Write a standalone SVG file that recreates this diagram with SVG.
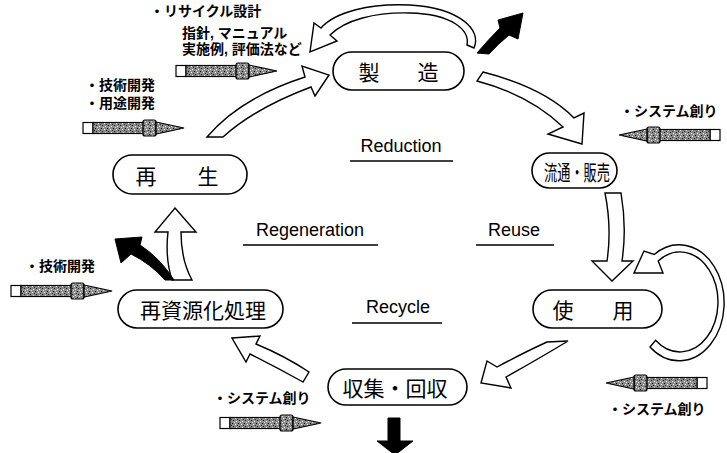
<svg xmlns="http://www.w3.org/2000/svg" xmlns:xlink="http://www.w3.org/1999/xlink" width="727" height="453" viewBox="0 0 727 453">
  <style>
    .pill { fill: #fff; stroke: #000; stroke-width: 1.6; }
    .node { font-family: "Noto Sans CJK JP", "Noto Sans CJK SC", sans-serif; font-size: 21px; fill: #000; text-anchor: middle; dominant-baseline: central; }
    .note { font-family: "Liberation Sans", "Noto Sans CJK JP", "Noto Sans CJK SC", sans-serif; font-weight: bold; font-size: 14px; fill: #000; }
    .lbl { font-family: "Liberation Sans", Arial, sans-serif; font-size: 18px; fill: #000; text-anchor: middle; }
    .rule { stroke: #000; stroke-width: 1.6; }
    .flow { fill: #fff; stroke: #000; stroke-width: 1.4; stroke-linejoin: miter; }
    .dark { fill: #000; stroke: #000; stroke-width: 1; }
    .pen { stroke: #000; stroke-width: 1.2; }
  </style>
  <defs>
    <pattern id="grain" width="6" height="6" patternUnits="userSpaceOnUse">
      <rect width="6" height="6" fill="#8c8c8c"/>
      <rect x="0" y="0" width="1" height="1" fill="#000"/>
      <rect x="3" y="1" width="1" height="1" fill="#fff"/>
      <rect x="1" y="3" width="1" height="1" fill="#222"/>
      <rect x="4" y="4" width="1" height="1" fill="#eee"/>
      <rect x="5" y="2" width="1" height="1" fill="#333"/>
      <rect x="2" y="5" width="1" height="1" fill="#ddd"/>
    </pattern>
    <!-- pencil-style arrow, 101 long, pointing right, origin at the eraser end -->
    <g id="pencil">
      <rect class="pen" x="0" y="-5.5" width="10" height="11" fill="#fff"/>
      <rect class="pen" x="10" y="-5.5" width="52" height="11" fill="url(#grain)"/>
      <rect class="pen" x="60" y="-8" width="13" height="16" rx="2" fill="url(#grain)"/>
      <path class="pen" d="M73,-6 L101,0 L73,6 Z" fill="url(#grain)"/>
    </g>
  </defs>

  <rect width="727" height="453" fill="#fff"/>

  <!-- connectors -->
  <g id="connectors">
    <!-- feedback loop over 製造 -->
    <path class="flow" d="M474,48 C482,30 460,8 410,5 C370,3 335,12 321,28 L314,23 L310,52 L337,41 L330,35 C345,20 375,12 410,13 C452,14 470,30 467,45 Z"/>
    <!-- outflow from 製造 -->
    <path class="dark" d="M477,53 Q489,39 500,28 L498,20 L523,13 L518,39 L509,35 Q498,44 489,54 Z"/>
    <!-- 再生 → 製造 -->
    <path class="flow" d="M207,137 Q240,98 305,77 L302,66 L329,75 L315,96 L311,87 Q255,108 223,137 Z"/>
    <!-- 製造 → 流通・販売 -->
    <path class="flow" d="M483,72 Q545,88 574,118 L584,113 L582,144 L548,134 L563,127 Q530,95 477,81 Z"/>
    <!-- 流通・販売 → 使用 -->
    <path class="flow" d="M605,193 L621,193 Q627,228 622,261 L633,261 L612,281 L592,261 L607,261 Q612,228 605,193 Z"/>
    <!-- loop around 使用 -->
    <path class="flow" d="M654.2,254.5 A45 58 0 1 1 650,347 L655.6,340.3 A38 50 0 1 0 658.2,261 L663,273 L634,273 L644,251 Z"/>
    <!-- 使用 → 収集・回収 -->
    <path class="flow" d="M547,342 L568,341 Q540,358 506,377 L511,388 L481,383 L487,361 L497,367 Q525,352 547,342 Z"/>
    <!-- 収集・回収 → 再資源化処理 -->
    <path class="flow" d="M232,338 L260,336 L256,344 Q285,356 309,372 L303,382 Q278,368 250,354 L246,362 Z"/>
    <!-- 再資源化処理 → 再生 -->
    <path class="flow" d="M175,208 L196,232 L181,232 Q181,260 192,280 L172,280 Q165,258 168,232 L155,232 Z"/>
    <!-- outflow from 再資源化処理 -->
    <path class="dark" d="M165,280 L174,280 Q160,258 140,245 L142,237 L115,239 L121,263 L131,254 Q151,264 165,280 Z"/>
    <!-- outflow from 収集・回収 -->
    <path class="dark" d="M388,418 H400 V441 H413 L395,455 L377,441 H388 Z"/>
  </g>

  <!-- nodes -->
  <g id="node-seizou">
    <rect class="pill" x="333" y="52" width="131" height="38" rx="19"/>
    <text class="node" x="369" y="71">製</text>
    <text class="node" x="428" y="71">造</text>
  </g>
  <g id="node-ryutsu">
    <rect class="pill" x="532" y="153" width="85" height="35" rx="17.5"/>
    <text class="node" x="577" y="170.5" font-size="20" textLength="66" lengthAdjust="spacingAndGlyphs">流通・販売</text>
  </g>
  <g id="node-shiyou">
    <rect class="pill" x="533" y="290" width="129" height="38" rx="19"/>
    <text class="node" x="563" y="309">使</text>
    <text class="node" x="623" y="309">用</text>
  </g>
  <g id="node-shushu">
    <rect class="pill" x="328" y="369" width="139" height="36" rx="18"/>
    <text class="node" x="395" y="387">収集・回収</text>
  </g>
  <g id="node-saishigen">
    <rect class="pill" x="118" y="290" width="165" height="38" rx="19"/>
    <text class="node" x="203" y="309">再資源化処理</text>
  </g>
  <g id="node-saisei">
    <rect class="pill" x="113" y="155" width="134" height="39" rx="19.5"/>
    <text class="node" x="146" y="174.5">再</text>
    <text class="node" x="208" y="174.5">生</text>
  </g>

  <!-- cycle labels -->
  <g id="labels">
    <text class="lbl" x="401" y="152">Reduction</text>
    <line class="rule" x1="350" y1="161" x2="453" y2="161"/>
    <text class="lbl" x="310" y="236">Regeneration</text>
    <line class="rule" x1="243" y1="245" x2="378" y2="245"/>
    <text class="lbl" x="514" y="236">Reuse</text>
    <line class="rule" x1="476" y1="245" x2="554" y2="245"/>
    <text class="lbl" x="398" y="313">Recycle</text>
    <line class="rule" x1="352" y1="323" x2="442" y2="323"/>
  </g>

  <!-- supporting measures -->
  <g id="notes">
    <text class="note" x="150" y="16">・リサイクル設計</text>
    <text class="note" x="182" y="38" font-size="12.5">指針, マニュアル</text>
    <text class="note" x="182" y="54" font-size="12.5">実施例, 評価法など</text>
    <use xlink:href="#pencil" transform="translate(176,71)"/>

    <text class="note" x="85" y="90">・技術開発</text>
    <text class="note" x="85" y="108">・用途開発</text>
    <use xlink:href="#pencil" transform="translate(83,128)"/>

    <text class="note" x="620" y="116">・システム創り</text>
    <use xlink:href="#pencil" transform="translate(720,135) scale(-1,1)"/>

    <text class="note" x="25" y="271">・技術開発</text>
    <use xlink:href="#pencil" transform="translate(11,291)"/>

    <text class="note" x="213" y="403">・システム創り</text>
    <use xlink:href="#pencil" transform="translate(220,423)"/>

    <use xlink:href="#pencil" transform="translate(707,383) scale(-1,1)"/>
    <text class="note" x="608" y="414">・システム創り</text>
  </g>
</svg>
